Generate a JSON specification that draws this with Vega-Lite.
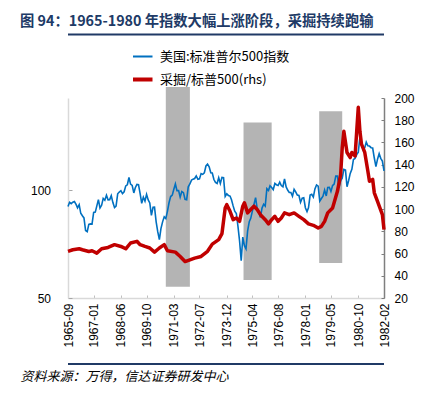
{
  "$schema": "https://vega.github.io/schema/vega-lite/v6.json",
  "width": 316,
  "height": 200,
  "autosize": {"type": "none"},
  "padding": {"left": 68, "top": 98, "right": 49, "bottom": 101},
  "background": "white",
  "config": {
    "view": {"stroke": null},
    "font": "Liberation Sans",
    "axis": {"grid": false, "labelFont": "Liberation Sans", "labelFontSize": 12, "labelColor": "#000000"}
  },
  "title": {
    "text": "图 94：1965-1980 年指数大幅上涨阶段，采掘持续跑输",
    "anchor": "start",
    "frame": "group",
    "dx": -48,
    "dy": 4,
    "offset": 8,
    "font": "Noto Sans CJK SC",
    "fontSize": 14.3,
    "fontWeight": "bold",
    "color": "#203a66"
  },
  "datasets": {
    "s": [
      {"d":"1965-09-01","v":89.96},{"d":"1965-10-01","v":92.42},{"d":"1965-11-01","v":91.61},{"d":"1965-12-01","v":92.43},
      {"d":"1966-01-01","v":92.88},{"d":"1966-02-01","v":91.22},{"d":"1966-03-01","v":89.23},{"d":"1966-04-01","v":91.06},{"d":"1966-05-01","v":86.13},{"d":"1966-06-01","v":84.74},{"d":"1966-07-01","v":83.6},{"d":"1966-08-01","v":77.1},{"d":"1966-09-01","v":76.56},{"d":"1966-10-01","v":80.2},{"d":"1966-11-01","v":80.45},{"d":"1966-12-01","v":80.33},
      {"d":"1967-01-01","v":86.61},{"d":"1967-02-01","v":86.78},{"d":"1967-03-01","v":90.2},{"d":"1967-04-01","v":94.01},{"d":"1967-05-01","v":89.08},{"d":"1967-06-01","v":90.64},{"d":"1967-07-01","v":94.75},{"d":"1967-08-01","v":93.64},{"d":"1967-09-01","v":96.71},{"d":"1967-10-01","v":93.9},{"d":"1967-11-01","v":94.0},{"d":"1967-12-01","v":96.47},
      {"d":"1968-01-01","v":92.24},{"d":"1968-02-01","v":89.36},{"d":"1968-03-01","v":90.2},{"d":"1968-04-01","v":97.59},{"d":"1968-05-01","v":98.68},{"d":"1968-06-01","v":99.58},{"d":"1968-07-01","v":97.74},{"d":"1968-08-01","v":98.86},{"d":"1968-09-01","v":102.67},{"d":"1968-10-01","v":103.41},{"d":"1968-11-01","v":108.37},{"d":"1968-12-01","v":103.86},
      {"d":"1969-01-01","v":103.01},{"d":"1969-02-01","v":98.13},{"d":"1969-03-01","v":101.51},{"d":"1969-04-01","v":103.69},{"d":"1969-05-01","v":103.46},{"d":"1969-06-01","v":97.71},{"d":"1969-07-01","v":91.83},{"d":"1969-08-01","v":95.51},{"d":"1969-09-01","v":93.12},{"d":"1969-10-01","v":97.24},{"d":"1969-11-01","v":93.81},{"d":"1969-12-01","v":92.06},
      {"d":"1970-01-01","v":85.02},{"d":"1970-02-01","v":89.5},{"d":"1970-03-01","v":89.63},{"d":"1970-04-01","v":81.52},{"d":"1970-05-01","v":76.55},{"d":"1970-06-01","v":72.72},{"d":"1970-07-01","v":78.05},{"d":"1970-08-01","v":81.52},{"d":"1970-09-01","v":84.21},{"d":"1970-10-01","v":83.25},{"d":"1970-11-01","v":87.2},{"d":"1970-12-01","v":92.15},
      {"d":"1971-01-01","v":95.88},{"d":"1971-02-01","v":96.75},{"d":"1971-03-01","v":100.31},{"d":"1971-04-01","v":103.95},{"d":"1971-05-01","v":99.63},{"d":"1971-06-01","v":99.7},{"d":"1971-07-01","v":95.58},{"d":"1971-08-01","v":99.03},{"d":"1971-09-01","v":98.34},{"d":"1971-10-01","v":94.23},{"d":"1971-11-01","v":93.99},{"d":"1971-12-01","v":102.09},
      {"d":"1972-01-01","v":103.94},{"d":"1972-02-01","v":106.57},{"d":"1972-03-01","v":107.2},{"d":"1972-04-01","v":107.67},{"d":"1972-05-01","v":109.53},{"d":"1972-06-01","v":107.14},{"d":"1972-07-01","v":107.39},{"d":"1972-08-01","v":111.09},{"d":"1972-09-01","v":110.55},{"d":"1972-10-01","v":111.58},{"d":"1972-11-01","v":116.67},{"d":"1972-12-01","v":118.05},
      {"d":"1973-01-01","v":116.03},{"d":"1973-02-01","v":111.68},{"d":"1973-03-01","v":111.52},{"d":"1973-04-01","v":106.97},{"d":"1973-05-01","v":104.95},{"d":"1973-06-01","v":104.26},{"d":"1973-07-01","v":108.22},{"d":"1973-08-01","v":104.25},{"d":"1973-09-01","v":108.43},{"d":"1973-10-01","v":108.29},{"d":"1973-11-01","v":95.96},{"d":"1973-12-01","v":97.55},
      {"d":"1974-01-01","v":96.57},{"d":"1974-02-01","v":96.22},{"d":"1974-03-01","v":93.98},{"d":"1974-04-01","v":90.31},{"d":"1974-05-01","v":87.28},{"d":"1974-06-01","v":86.0},{"d":"1974-07-01","v":79.31},{"d":"1974-08-01","v":72.15},{"d":"1974-09-01","v":63.54},{"d":"1974-10-01","v":73.9},{"d":"1974-11-01","v":69.97},{"d":"1974-12-01","v":68.56},
      {"d":"1975-01-01","v":76.98},{"d":"1975-02-01","v":81.59},{"d":"1975-03-01","v":83.36},{"d":"1975-04-01","v":87.3},{"d":"1975-05-01","v":91.15},{"d":"1975-06-01","v":95.19},{"d":"1975-07-01","v":88.75},{"d":"1975-08-01","v":86.88},{"d":"1975-09-01","v":83.87},{"d":"1975-10-01","v":89.04},{"d":"1975-11-01","v":91.24},{"d":"1975-12-01","v":90.19},
      {"d":"1976-01-01","v":100.86},{"d":"1976-02-01","v":99.71},{"d":"1976-03-01","v":102.77},{"d":"1976-04-01","v":101.64},{"d":"1976-05-01","v":100.18},{"d":"1976-06-01","v":104.28},{"d":"1976-07-01","v":103.44},{"d":"1976-08-01","v":102.91},{"d":"1976-09-01","v":105.24},{"d":"1976-10-01","v":102.9},{"d":"1976-11-01","v":102.1},{"d":"1976-12-01","v":107.46},
      {"d":"1977-01-01","v":102.03},{"d":"1977-02-01","v":99.82},{"d":"1977-03-01","v":98.42},{"d":"1977-04-01","v":98.44},{"d":"1977-05-01","v":96.12},{"d":"1977-06-01","v":100.48},{"d":"1977-07-01","v":98.85},{"d":"1977-08-01","v":96.77},{"d":"1977-09-01","v":96.53},{"d":"1977-10-01","v":92.34},{"d":"1977-11-01","v":94.83},{"d":"1977-12-01","v":95.1},
      {"d":"1978-01-01","v":89.25},{"d":"1978-02-01","v":87.04},{"d":"1978-03-01","v":89.21},{"d":"1978-04-01","v":96.83},{"d":"1978-05-01","v":97.24},{"d":"1978-06-01","v":95.53},{"d":"1978-07-01","v":100.68},{"d":"1978-08-01","v":103.29},{"d":"1978-09-01","v":102.54},{"d":"1978-10-01","v":93.15},{"d":"1978-11-01","v":94.7},{"d":"1978-12-01","v":96.11},
      {"d":"1979-01-01","v":99.93},{"d":"1979-02-01","v":96.28},{"d":"1979-03-01","v":101.59},{"d":"1979-04-01","v":101.76},{"d":"1979-05-01","v":99.08},{"d":"1979-06-01","v":102.91},{"d":"1979-07-01","v":103.81},{"d":"1979-08-01","v":109.32},{"d":"1979-09-01","v":109.32},{"d":"1979-10-01","v":101.82},{"d":"1979-11-01","v":106.16},{"d":"1979-12-01","v":107.94},
      {"d":"1980-01-01","v":114.16},{"d":"1980-02-01","v":113.66},{"d":"1980-03-01","v":102.09},{"d":"1980-04-01","v":106.29},{"d":"1980-05-01","v":111.24},{"d":"1980-06-01","v":114.24},{"d":"1980-07-01","v":121.67},{"d":"1980-08-01","v":122.38},{"d":"1980-09-01","v":125.46},{"d":"1980-10-01","v":127.47},{"d":"1980-11-01","v":140.52},{"d":"1980-12-01","v":135.76},
      {"d":"1981-01-01","v":129.55},{"d":"1981-02-01","v":131.27},{"d":"1981-03-01","v":136.0},{"d":"1981-04-01","v":132.81},{"d":"1981-05-01","v":132.59},{"d":"1981-06-01","v":131.21},{"d":"1981-07-01","v":130.92},{"d":"1981-08-01","v":122.79},{"d":"1981-09-01","v":116.18},{"d":"1981-10-01","v":121.89},{"d":"1981-11-01","v":126.35},{"d":"1981-12-01","v":122.55},
      {"d":"1982-01-01","v":120.4},{"d":"1982-02-01","v":113.11}
    ],
    "r": [
      {"d":"1965-09-01","v":62},{"d":"1965-12-01","v":63.4},{"d":"1966-04-01","v":64.3},{"d":"1966-06-01","v":63.4},{"d":"1966-10-01","v":61.9},{"d":"1966-12-01","v":62.5},
      {"d":"1967-03-01","v":60.4},{"d":"1967-06-01","v":64.3},{"d":"1967-10-01","v":65.5},{"d":"1968-02-01","v":68},{"d":"1968-06-01","v":66.4},{"d":"1968-09-01","v":64.3},{"d":"1968-12-01","v":69.5},
      {"d":"1969-04-01","v":71},{"d":"1969-06-01","v":68},{"d":"1969-09-01","v":66.4},{"d":"1969-12-01","v":65},{"d":"1970-03-01","v":61.3},{"d":"1970-06-01","v":65},{"d":"1970-09-01","v":68},{"d":"1970-11-01","v":62.5},
      {"d":"1971-04-01","v":61.3},{"d":"1971-07-01","v":57.4},{"d":"1971-10-01","v":52.8},{"d":"1972-01-01","v":54.4},{"d":"1972-04-01","v":55.9},{"d":"1972-08-01","v":57.4},{"d":"1972-12-01","v":62},
      {"d":"1973-03-01","v":68.5},{"d":"1973-07-01","v":72.5},{"d":"1973-09-01","v":78},{"d":"1973-11-01","v":101},{"d":"1973-12-01","v":104},
      {"d":"1974-02-01","v":98},{"d":"1974-04-01","v":90.5},{"d":"1974-06-01","v":92},{"d":"1974-08-01","v":89},{"d":"1974-10-01","v":102.6},{"d":"1974-11-01","v":105.6},
      {"d":"1975-01-01","v":96.6},{"d":"1975-03-01","v":99.6},{"d":"1975-05-01","v":102.6},{"d":"1975-07-01","v":99.6},{"d":"1975-09-01","v":95},{"d":"1975-12-01","v":90.5},
      {"d":"1976-02-01","v":86.7},{"d":"1976-04-01","v":90.5},{"d":"1976-06-01","v":93.5},{"d":"1976-08-01","v":89},{"d":"1976-10-01","v":92},{"d":"1976-12-01","v":96.6},
      {"d":"1977-03-01","v":95},{"d":"1977-06-01","v":96.6},{"d":"1977-09-01","v":93.5},{"d":"1977-12-01","v":90.5},
      {"d":"1978-03-01","v":86.7},{"d":"1978-06-01","v":85.4},{"d":"1978-09-01","v":83},{"d":"1978-11-01","v":84.5},
      {"d":"1979-01-01","v":89},{"d":"1979-03-01","v":96.6},{"d":"1979-06-01","v":101},{"d":"1979-09-01","v":116},{"d":"1979-11-01","v":131},{"d":"1979-12-01","v":155},
      {"d":"1980-01-01","v":170},{"d":"1980-03-01","v":151},{"d":"1980-05-01","v":146.4},{"d":"1980-06-01","v":151},{"d":"1980-08-01","v":147.8},{"d":"1980-09-01","v":170},{"d":"1980-10-01","v":191.6},{"d":"1980-11-01","v":170},{"d":"1980-12-01","v":158.4},
      {"d":"1981-02-01","v":151},{"d":"1981-04-01","v":134},{"d":"1981-05-01","v":125},{"d":"1981-07-01","v":126.7},{"d":"1981-08-01","v":114.7},{"d":"1981-10-01","v":107},
      {"d":"1982-01-01","v":95},{"d":"1982-02-01","v":81.5}
    ],
    "b": [
      {"d":"1970-10-01","e":"1972-01-01","hi":210,"lo":30.2},
      {"d":"1974-10-15","e":"1976-04-01","hi":178,"lo":36.3},
      {"d":"1978-09-20","e":"1979-12-01","hi":188,"lo":51.4}
    ]
  },
  "encoding": {
    "x": {
      "field": "d",
      "type": "temporal",
      "scale": {"type": "utc", "domain": [{"year":1965,"month":9,"date":1,"utc":true},{"year":1982,"month":2,"date":1,"utc":true}]},
      "axis": {
        "values": [
          {"year":1965,"month":9,"date":1,"utc":true},{"year":1967,"month":1,"date":1,"utc":true},{"year":1968,"month":6,"date":1,"utc":true},
          {"year":1969,"month":10,"date":1,"utc":true},{"year":1971,"month":3,"date":1,"utc":true},{"year":1972,"month":7,"date":1,"utc":true},
          {"year":1973,"month":12,"date":1,"utc":true},{"year":1975,"month":4,"date":1,"utc":true},{"year":1976,"month":8,"date":1,"utc":true},
          {"year":1978,"month":1,"date":1,"utc":true},{"year":1979,"month":5,"date":1,"utc":true},{"year":1980,"month":10,"date":1,"utc":true},
          {"year":1982,"month":2,"date":1,"utc":true}
        ],
        "format": "%Y-%m",
        "labelAngle": 270,
        "labelAlign": "right",
        "labelBaseline": "middle",
        "labelPadding": 8,
        "tickSize": -3,
        "labelFlush": false,
        "labelOverlap": false,
        "domainColor": "#d9d9d9",
        "domainWidth": 1.5,
        "tickColor": "#bfbfbf",
        "title": "资料来源：万得，信达证券研发中心",
        "titleX": -48,
        "titleY": 82,
        "titleAlign": "left",
        "titleAnchor": "start",
        "titleBaseline": "alphabetic",
        "titleFont": "Noto Sans CJK SC",
        "titleFontSize": 13,
        "titleFontStyle": "italic",
        "titleFontWeight": "normal",
        "titleColor": "#000000"
      }
    }
  },
  "layer": [
    {
      "layer": [
        {
          "data": {"name": "b"},
          "mark": {"type": "rect", "color": "#b4b4b4"},
          "encoding": {
            "x2": {"field": "e"},
            "y": {"field": "hi", "type": "quantitative", "scale": {"domain": [20, 200]}, "axis": null},
            "y2": {"field": "lo"}
          }
        },
        {
          "data": {"values": [{}]},
          "mark": {"type": "rule", "color": "#203a66", "strokeWidth": 2},
          "encoding": {
            "x": null,
            "y": {"datum": 257.2, "type": "quantitative"}
          }
        },
        {
          "data": {"values": [{}]},
          "mark": {"type": "rule", "color": "#203a66", "strokeWidth": 2},
          "encoding": {
            "x": null,
            "y": {"datum": -39.4, "type": "quantitative"}
          }
        }
      ]
    },
    {
      "data": {"name": "s"},
      "mark": {"type": "line", "strokeWidth": 1.6},
      "encoding": {
        "y": {
          "field": "v", "type": "quantitative",
          "scale": {"type": "log", "domain": [50, 180.5]},
          "axis": {"orient": "left", "values": [50, 100], "format": "d", "domainColor": "#d9d9d9", "domainWidth": 1.5, "tickColor": "#a6a6a6", "tickSize": -4, "labelPadding": 21.5, "title": null}
        },
        "color": {
          "datum": "美国:标准普尔500指数", "type": "nominal",
          "scale": {"domain": ["美国:标准普尔500指数", "采掘/标普500(rhs)"], "range": ["#0070c0", "#c00000"]},
          "legend": {
            "orient": "none", "legendX": 65, "legendY": -53, "title": null,
            "symbolType": "stroke", "symbolSize": 676, "symbolStrokeWidth": 2,
            "labelFont": "Noto Sans CJK SC", "labelFontSize": 13, "labelColor": "#000000",
            "labelOffset": 14, "rowPadding": 0, "clipHeight": 23, "padding": 0, "direction": "vertical",
            "encode": {"symbols": {"update": {"strokeWidth": {"signal": "datum.value === '采掘/标普500(rhs)' ? 4 : 2"}}}}
          }
        }
      }
    },
    {
      "data": {"name": "r"},
      "mark": {"type": "line", "strokeWidth": 3.5, "strokeJoin": "round"},
      "encoding": {
        "y": {
          "field": "v", "type": "quantitative",
          "scale": {"domain": [20, 200]},
          "axis": {"orient": "right", "values": [20,40,60,80,100,120,140,160,180,200], "domainColor": "#7f7f7f", "domainWidth": 1.5, "tickColor": "#7f7f7f", "tickSize": -3, "labelPadding": 13, "title": null}
        },
        "color": {"datum": "采掘/标普500(rhs)", "type": "nominal"}
      }
    }
  ],
  "resolve": {"scale": {"y": "independent"}}
}
